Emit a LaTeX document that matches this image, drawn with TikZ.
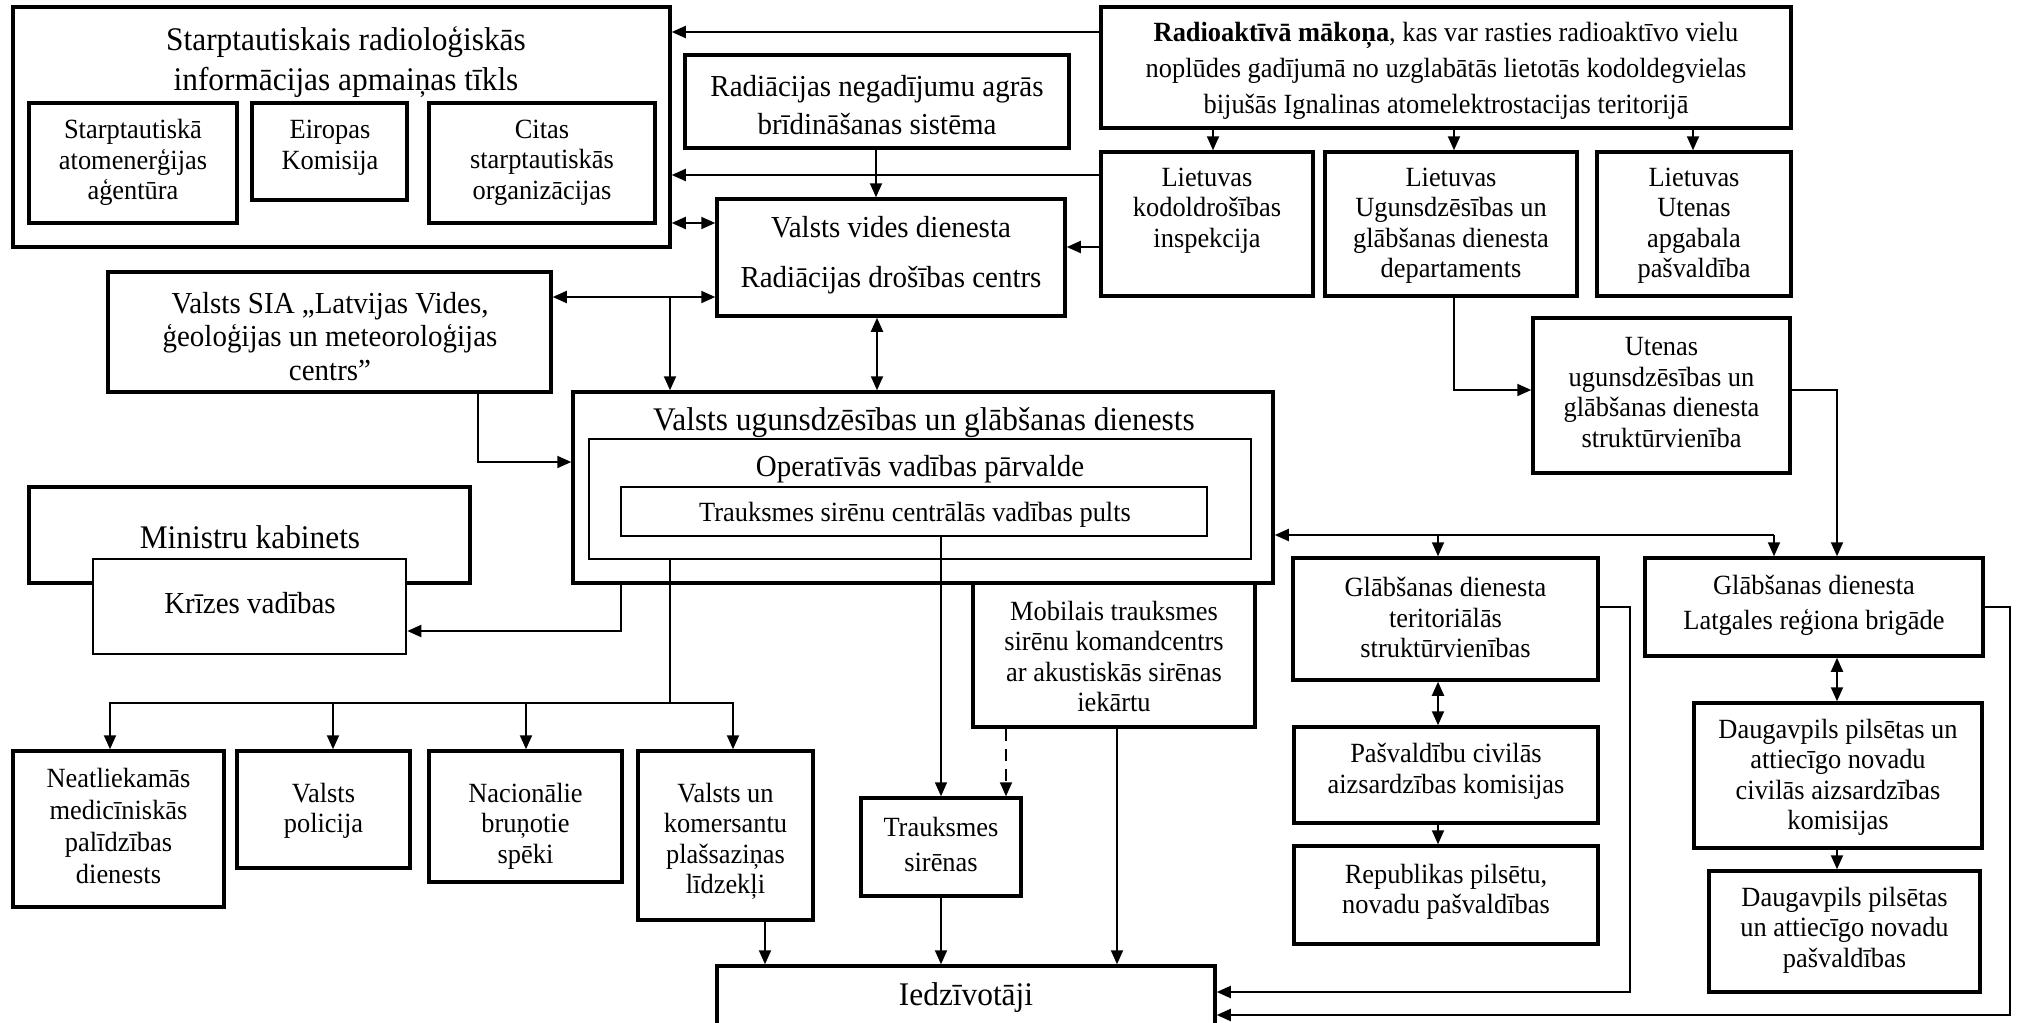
\documentclass[tikz,border=0pt]{standalone}
\usepackage{fontspec}
\setmainfont[FakeStretch=0.95]{Liberation Serif}
\usetikzlibrary{arrows.meta,fit}
\newcommand\fntL{\fontsize{33pt}{40pt}\selectfont}
\newcommand\fntM{\fontsize{30.5pt}{33.5pt}\selectfont}
\newcommand\fntS{\fontsize{27.8pt}{30.5pt}\selectfont}
\begin{document}
\begin{tikzpicture}[x=1pt,y=-1pt,
  box/.style={draw, line width=3.5pt, fill=white, inner sep=0pt},
  midbox/.style={draw, line width=2.6pt, fill=white, inner sep=0pt},
  thinbox/.style={draw, line width=1.8pt, fill=white, inner sep=0pt},
  txt/.style={inner sep=0pt, align=center},
  con/.style={line width=2pt},
  thincon/.style={line width=1.6pt},
  tip/.tip={Triangle[length=14pt,width=12pt]},
  arr/.style={con, -tip},
  dbl/.style={con, tip-tip}]
\useasboundingbox (0,0) rectangle (2022,1023);
\fill[white] (0,0) rectangle (2022,1023);
% ---- boxes ----
\node[box, fit={(13,7) (670,247)}] (A) {};
\node[txt, font=\fntL] (At) at (346,62) {Starptautiskais radioloģiskās\\informācijas apmaiņas tīkls};
\node[box, fit={(29,103) (237,223)}] (A1) {};
\node[txt, font=\fntS] (A1t) at (133,162.5) {Starptautiskā\\atomenerģijas\\aģentūra};
\node[box, fit={(252,103) (407,200)}] (A2) {};
\node[txt, font=\fntS] (A2t) at (330,148) {Eiropas\\Komisija};
\node[box, fit={(429,103) (655,223)}] (A3) {};
\node[txt, font=\fntS] (A3t) at (542,162.5) {Citas\\starptautiskās\\organizācijas};

\node[box, fit={(685,55) (1069,148)}] (B) {};
\node[txt, font={\fontsize{30.5pt}{38pt}\selectfont}] (Bt) at (877,105) {Radiācijas negadījumu agrās\\brīdināšanas sistēma};

\node[box, fit={(1101,7) (1791,128)}] (C) {};
\node[txt, font={\fontsize{27.8pt}{36pt}\selectfont}] (Ct) at (1446,71) {{\bfseries Radioaktīvā mākoņa}, kas var rasties radioaktīvo vielu\\noplūdes gadījumā no uzglabātās lietotās kodoldegvielas\\bijušās Ignalinas atomelektrostacijas teritorijā};

\node[box, fit={(1101,152) (1313,296)}] (D) {};
\node[txt, font=\fntS] (Dt) at (1207,210.5) {Lietuvas\\kodoldrošības\\inspekcija};
\node[box, fit={(1325,152) (1577,296)}] (E) {};
\node[txt, font=\fntS] (Et) at (1451,226) {Lietuvas\\Ugunsdzēsības un\\glābšanas dienesta\\departaments};
\node[box, fit={(1597,152) (1791,296)}] (F) {};
\node[txt, font=\fntS] (Ft) at (1694,226) {Lietuvas\\Utenas\\apgabala\\pašvaldība};

\node[box, fit={(717,199) (1065,316)}] (G) {};
\node[txt, font={\fontsize{30.5pt}{50pt}\selectfont}] (Gt) at (891,255) {Valsts vides dienesta\\Radiācijas drošības centrs};

\node[box, fit={(108,272) (551,392)}] (H) {};
\node[txt, font=\fntM] (Ht) at (330,336.5) {Valsts SIA „Latvijas Vides,\\ģeoloģijas un meteoroloģijas\\centrs”};

\node[box, fit={(1533,318) (1790,473)}] (I) {};
\node[txt, font=\fntS] (It) at (1661.5,392.5) {Utenas\\ugunsdzēsības un\\glābšanas dienesta\\struktūrvienība};

\node[box, fit={(573,392) (1273,583)}] (J) {};
\node[txt, font=\fntL] (Jt) at (924,423) {Valsts ugunsdzēsības un glābšanas dienests};
\node[thinbox, fit={(589,439) (1251,559)}] (J1) {};
\node[txt, font=\fntM] (J1t) at (920,469) {Operatīvās vadības pārvalde};
\node[thinbox, fit={(621,487) (1207,536)}] (J2) {};
\node[txt, font=\fntS] (J2t) at (915,515) {Trauksmes sirēnu centrālās vadības pults};

\node[box, fit={(29,487) (470,583)}] (K) {};
\node[txt, font=\fntL] (Kt) at (250,537) {Ministru kabinets};
\node[midbox, fit={(93,559) (406,654)}] (K2) {};
\node[txt, font=\fntM] (K2t) at (250,603) {Krīzes vadības};

\node[box, fit={(973,583) (1255,727)}] (L) {};
\node[txt, font=\fntS] (Lt) at (1114,656.5) {Mobilais trauksmes\\sirēnu komandcentrs\\ar akustiskās sirēnas\\iekārtu};

\node[box, fit={(1293,558) (1598,680)}] (M) {};
\node[txt, font=\fntS] (Mt) at (1445.5,617.5) {Glābšanas dienesta\\teritoriālās\\struktūrvienības};
\node[box, fit={(1645,558) (1983,656)}] (N) {};
\node[txt, font={\fontsize{27.8pt}{35pt}\selectfont}] (Nt) at (1814,605.5) {Glābšanas dienesta\\Latgales reģiona brigāde};
\node[box, fit={(1294,727) (1598,823)}] (O) {};
\node[txt, font=\fntS] (Ot) at (1446,771.5) {Pašvaldību civilās\\aizsardzības komisijas};
\node[box, fit={(1294,846) (1598,944)}] (P) {};
\node[txt, font=\fntS] (Pt) at (1446,892) {Republikas pilsētu,\\novadu pašvaldības};
\node[box, fit={(1694,703) (1982,848)}] (Q) {};
\node[txt, font=\fntS] (Qt) at (1838,777.5) {Daugavpils pilsētas un\\attiecīgo novadu\\civilās aizsardzības\\komisijas};
\node[box, fit={(1709,871) (1980,992)}] (R) {};
\node[txt, font=\fntS] (Rt) at (1844.5,930) {Daugavpils pilsētas\\un attiecīgo novadu\\pašvaldības};

\node[box, fit={(13,751) (224,907)}] (S1) {};
\node[txt, font={\fontsize{27.8pt}{32pt}\selectfont}] (S1t) at (118.5,825.5) {Neatliekamās\\medicīniskās\\palīdzības\\dienests};
\node[box, fit={(237,751) (410,868)}] (S2) {};
\node[txt, font=\fntS] (S2t) at (323.5,811) {Valsts\\policija};
\node[box, fit={(429,751) (622,882)}] (S3) {};
\node[txt, font=\fntS] (S3t) at (525.5,826) {Nacionālie\\bruņotie\\spēki};
\node[box, fit={(638,751) (813,920)}] (S4) {};
\node[txt, font=\fntS] (S4t) at (725.5,841.5) {Valsts un\\komersantu\\plašsaziņas\\līdzekļi};

\node[box, fit={(861,798) (1021,896)}] (T) {};
\node[txt, font={\fontsize{27.8pt}{35pt}\selectfont}] (Tt) at (941,844.5) {Trauksmes\\sirēnas};

\node[box, fit={(717,966) (1215,1040)}] (U) {};
\node[txt, font=\fntL] (Ut) at (966,998) {Iedzīvotāji};

% ---- connectors ----
\draw[arr] (C.west |- 0,32) -- (A.east |- 0,32);
\draw[arr] (D.west |- 0,175) -- (A.east |- 0,175);
\draw[dbl] (A.east |- 0,223) -- (G.west |- 0,223);
\draw[arr] (C.south -| 1213,0) -- (D.north -| 1213,0);
\draw[arr] (C.south -| 1454,0) -- (E.north -| 1454,0);
\draw[arr] (C.south -| 1693,0) -- (F.north -| 1693,0);
\draw[arr] (B.south -| 876,0) -- (G.north -| 876,0);
\draw[arr] (D.west |- 0,247) -- (G.east |- 0,247);
\draw[dbl] (H.east |- 0,297) -- (G.west |- 0,297);
\coordinate (hj) at (670,297);
\draw[arr] (hj) -- (J.north -| hj);
\draw[dbl] (G.south -| 877,0) -- (J.north -| 877,0);
\draw[arr] (H.south -| 478,0) |- (J.west |- 0,462);
\draw[arr] (J.south -| 621,0) |- (K2.east |- 0,631);
\coordinate (dist) at (670,703);
\draw[thincon] (J1.south -| dist) -- (dist);
\draw[arr] (dist) -| (S1.north -| 110,0);
\draw[arr] (dist) -| (S2.north -| 333,0);
\draw[arr] (dist) -| (S3.north -| 526,0);
\draw[arr] (dist) -| (S4.north -| 733,0);
\draw[thincon, -tip] (J2.south -| T.north) -- (T.north);
\draw[arr, dash pattern=on 12pt off 8pt] (L.south -| 1006,0) -- (T.north -| 1006,0);
\draw[arr] (L.south -| 1117,0) -- (U.north -| 1117,0);
\draw[arr] (T.south) -- (U.north -| T.south);
\draw[arr] (S4.south -| 765,0) -- (U.north -| 765,0);
\coordinate (busR) at (1774,535);
\draw[arr] (busR) -- (J.east |- busR);
\draw[arr] (busR) -- (N.north -| busR);
\draw[arr] (busR -| 1438,0) -- (M.north -| 1438,0);
\draw[arr] (E.south -| 1454,0) |- (I.west |- 0,390);
\draw[arr] (I.east |- 0,390) -| (N.north -| 1837,0);
\draw[dbl] (N.south -| 1837,0) -- (Q.north -| 1837,0);
\draw[dbl] (M.south -| 1438,0) -- (O.north -| 1438,0);
\draw[arr] (O.south -| 1438,0) -- (P.north -| 1438,0);
\draw[arr] (Q.south -| 1837,0) -- (R.north -| 1837,0);
\coordinate (mr) at (1630,992);
\draw[arr] (M.east |- 0,607) -| (mr) -- (U.east |- mr);
\coordinate (nr) at (2010,1015);
\draw[arr] (N.east |- 0,607) -| (nr) -- (U.east |- nr);
\end{tikzpicture}
\end{document}
